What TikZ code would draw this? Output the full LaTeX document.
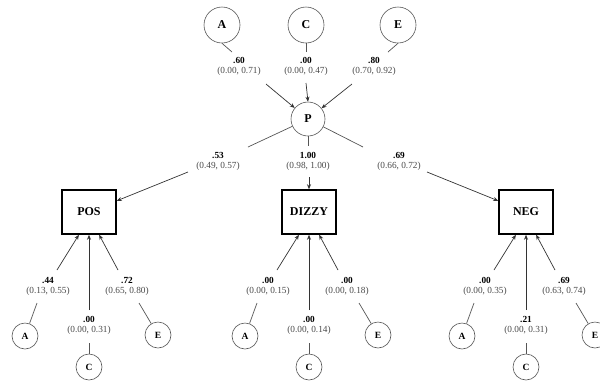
\documentclass[tikz,border=0pt]{standalone}
\usepackage{fontspec}
\setmainfont{Liberation Serif}
\usetikzlibrary{arrows.meta}
\definecolor{lnc}{HTML}{555555}
\definecolor{cic}{HTML}{4a4a4a}
\tikzset{
 bigc/.style={circle,draw=lnc,line width=0.6pt,minimum size=36pt,inner sep=0pt,font=\fontsize{12}{12}\selectfont\bfseries},
 pc/.style={bigc,minimum size=34pt},
 smc/.style={circle,draw=lnc,line width=0.6pt,minimum size=26pt,inner sep=0pt,font=\fontsize{9.5}{9.5}\selectfont\bfseries},
 boxn/.style={rectangle,draw=black,line width=1.5pt,minimum width=54pt,minimum height=44pt,inner sep=0pt,font=\fontsize{12}{12}\selectfont\bfseries},
 lab/.style={align=center,inner sep=0pt,font=\fontsize{9.3}{10}\selectfont},
 lnn/.style={draw=lnc,line width=0.7pt},
 arr/.style={draw=black!80,line width=0.7pt,-{Stealth[length=5pt,width=4pt]}},
}
\newcommand{\labtext}[2]{\textbf{#1}\\\textcolor{cic}{#2}}
\newcommand{\mygroup}[9]{%
 \node[boxn] (#1) at (#2,212) {#3};
 \node[smc] (#1A) at ({#2-64},336) {A};
 \node[smc] (#1C) at (#2,367) {C};
 \node[smc] (#1E) at ({#2+69},335) {E};
 \node[lab] (#1la) at ({#2-41},286.5) {\labtext{#4}{#5}};
 \node[lab] (#1lc) at (#2,325.5) {\labtext{#6}{#7}};
 \node[lab] (#1le) at ({#2+38},286.5) {\labtext{#8}{#9}};
 \coordinate (#1a1) at ({#2-52},303);
 \coordinate (#1a2) at ({#2-32},270);
 \draw[lnn] (#1A) -- (#1a1);
 \draw[arr] (#1a2) -- (#1.246);
 \coordinate (#1c1) at (#2,343);
 \coordinate (#1c2) at (#2,310);
 \draw[lnn] (#1C) -- (#1c1);
 \draw[arr] (#1c2) -- (#1.south);
 \coordinate (#1e1) at ({#2+50},303);
 \coordinate (#1e2) at ({#2+29},270);
 \draw[lnn] (#1E) -- (#1e1);
 \draw[arr] (#1e2) -- (#1.294);
}
\begin{document}
\begin{tikzpicture}[x=1pt,y=-1pt]
\useasboundingbox (0,0) rectangle (600,384);
% top
\node[bigc] (tA) at (222,25) {A};
\node[bigc] (tC) at (306,25) {C};
\node[bigc] (tE) at (398,25) {E};
\node[pc] (P) at (308,119) {P};
\node[lab] (ltA) at (239,66) {\labtext{.60}{(0.00, 0.71)}};
\node[lab] (ltC) at (306,66) {\labtext{.00}{(0.00, 0.47)}};
\node[lab] (ltE) at (374,66) {\labtext{.80}{(0.70, 0.92)}};
\coordinate (tA1) at (232,52);
\coordinate (tC1) at (306,52);
\coordinate (tE1) at (388,52);
\draw[lnn] (tA.south) -- (tA1);
\draw[lnn] (tC.south) -- (tC1);
\draw[lnn] (tE.south) -- (tE1);
\coordinate (tA2) at (266,84);
\coordinate (tC2) at (306,83);
\coordinate (tE2) at (352,84);
\draw[arr] (tA2) -- (P);
\draw[arr] (tC2) -- (P.north);
\draw[arr] (tE2) -- (P);
% bottom groups
\mygroup{pos}{89}{POS}{.44}{(0.13, 0.55)}{.00}{(0.00, 0.31)}{.72}{(0.65, 0.80)}
\mygroup{diz}{309}{DIZZY}{.00}{(0.00, 0.15)}{.00}{(0.00, 0.14)}{.00}{(0.00, 0.18)}
\mygroup{neg}{526}{NEG}{.00}{(0.00, 0.35)}{.21}{(0.00, 0.31)}{.69}{(0.63, 0.74)}
% P outputs
\coordinate (pl1) at (248,147);
\coordinate (pm1) at (308,146);
\coordinate (pr1) at (363,147);
\draw[lnn] (P) -- (pl1);
\draw[lnn] (P.south) -- (pm1);
\draw[lnn] (P) -- (pr1);
\node[lab] (lpl) at (218,161) {\labtext{.53}{(0.49, 0.57)}};
\node[lab] (lpm) at (308,161) {\labtext{1.00}{(0.98, 1.00)}};
\node[lab] (lpr) at (399,161) {\labtext{.69}{(0.66, 0.72)}};
\coordinate (pl2) at (188,172);
\coordinate (pm2) at (309,177);
\coordinate (pr2) at (427,172);
\draw[arr] (pl2) -- (pos);
\draw[arr] (pm2) -- (diz.north);
\draw[arr] (pr2) -- (neg);
\end{tikzpicture}
\end{document}
